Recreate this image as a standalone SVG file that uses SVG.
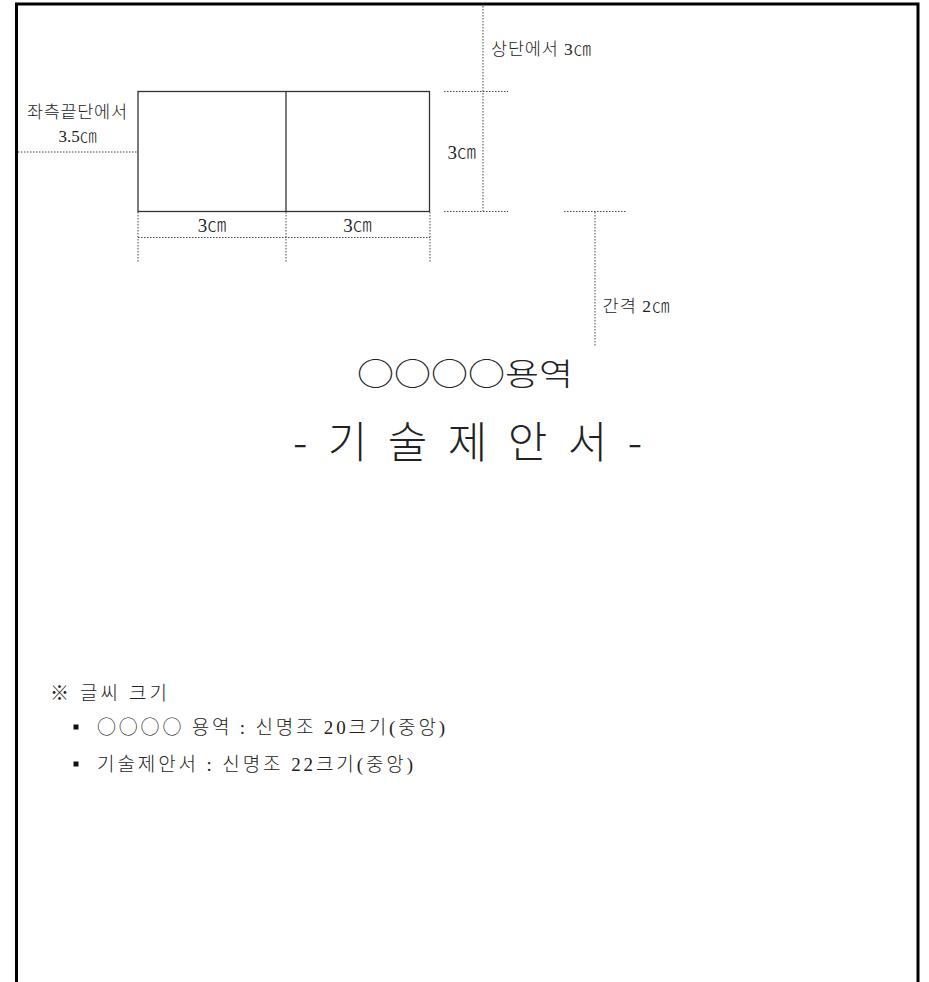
<svg xmlns="http://www.w3.org/2000/svg" width="929" height="982" viewBox="0 0 929 982">
<style>
.t{font-family:"Liberation Serif","Noto Sans CJK KR",serif;fill:#222;font-weight:300}
.k{font-family:"Noto Sans CJK KR","Liberation Serif",serif;font-weight:300}
.dot{stroke:#444;stroke-width:1;stroke-dasharray:1.5,1.5;fill:none}
.box{stroke:#333;stroke-width:1.3;fill:#fff}
.border{stroke:#000;stroke-width:3;fill:none}
</style>
<rect width="929" height="982" fill="#fff"/>
<g id="page-border">
<polyline class="border" points="16.5,982 16.5,4 918,4 918,982"/>
</g>
<g id="connectors">
<line class="dot" x1="18" y1="152" x2="138" y2="152"/>
<line class="dot" x1="138" y1="212" x2="138" y2="262"/>
<line class="dot" x1="286" y1="212" x2="286" y2="262"/>
<line class="dot" x1="430" y1="212" x2="430" y2="262"/>
<line class="dot" x1="138" y1="237.5" x2="430" y2="237.5"/>
<line class="dot" x1="483" y1="6" x2="483" y2="211"/>
<line class="dot" x1="444" y1="91.5" x2="508" y2="91.5"/>
<line class="dot" x1="444" y1="211.5" x2="508" y2="211.5"/>
<line class="dot" x1="564" y1="211.5" x2="626" y2="211.5"/>
<line class="dot" x1="595" y1="212" x2="595" y2="347"/>
</g>
<g id="logo-box">
<rect class="box" x="138" y="91.5" width="291.5" height="120"/>
<line class="box" x1="286" y1="91.5" x2="286" y2="211.5"/>
</g>
<g id="label-top">
<text class="t" x="491" y="55" font-size="17.5" textLength="100" lengthAdjust="spacing">상단에서 3㎝</text>
</g>
<g id="label-left">
<text class="t" x="77" y="118" font-size="17.5" text-anchor="middle" textLength="100" lengthAdjust="spacing">좌측끝단에서</text>
<text class="t" x="77.5" y="142" font-size="17" text-anchor="middle">3.5㎝</text>
</g>
<g id="label-width">
<text class="t" x="212" y="232" font-size="19" text-anchor="middle">3㎝</text>
<text class="t" x="357.5" y="232" font-size="19" text-anchor="middle">3㎝</text>
</g>
<g id="label-height">
<text class="t" x="447.5" y="159" font-size="19">3㎝</text>
</g>
<g id="label-gap">
<text class="t" x="602.5" y="312" font-size="17.5" textLength="67" lengthAdjust="spacing">간격 2㎝</text>
</g>
<g id="title">
<text class="k" x="357" y="385" font-size="31" fill="#222" textLength="216" lengthAdjust="spacingAndGlyphs">○○○○용역</text>
<text class="k" x="293" y="458" font-size="43" fill="#222" textLength="349" lengthAdjust="spacing">- 기 술 제 안 서 -</text>
</g>
<g id="notes">
<text class="t" x="50" y="700" font-size="19" textLength="117" lengthAdjust="spacing"><tspan class="k">※</tspan>  글씨 크기</text>
<rect x="73.5" y="724.5" width="5" height="5" fill="#111"/>
<text class="t" x="97" y="734" font-size="19" textLength="348" lengthAdjust="spacing"><tspan class="k">○○○○</tspan> 용역 : 신명조 20크기(중앙)</text>
<rect x="73.5" y="761.5" width="5" height="5" fill="#111"/>
<text class="t" x="97" y="771" font-size="19" textLength="316" lengthAdjust="spacing">기술제안서 : 신명조 22크기(중앙)</text>
</g>
</svg>
